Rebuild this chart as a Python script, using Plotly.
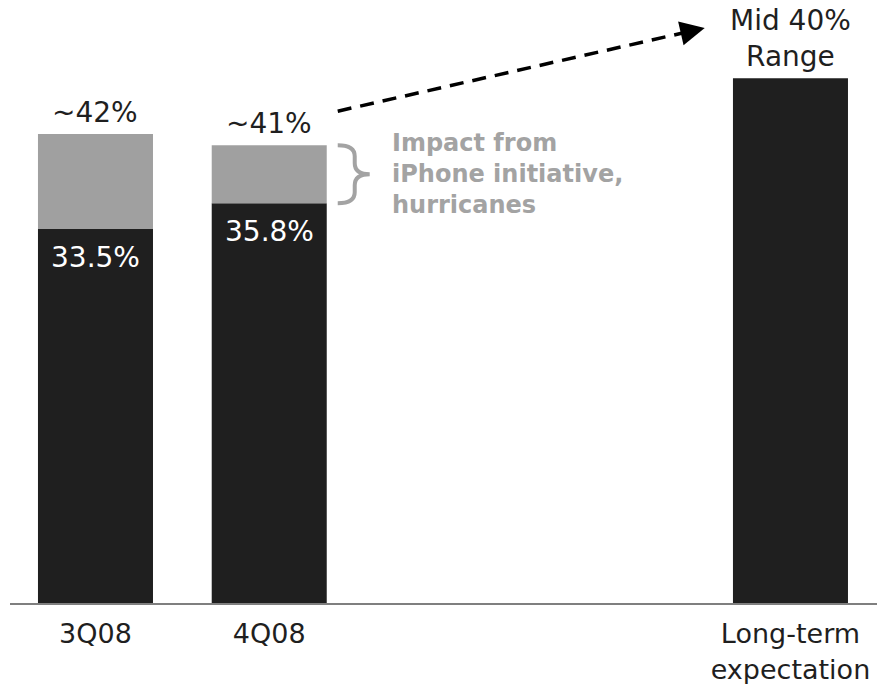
import math
import plotly.graph_objects as go

# Gross margin bars: core value, approximate total incl. one-off impact
categories = ["3Q08", "4Q08", "Long-term<br>expectation"]
positions = [0, 1, 4]
core_margin = [33.5, 35.8, 47.0]
approx_total = [42.0, 41.0, None]
core_labels = ["33.5%", "35.8%", ""]
total_labels = ["~42%", "~41%", ""]
target_label = "Mid 40%<br>Range"
impact_note = "Impact from<br>iPhone initiative,<br>hurricanes"

BLACK = "#1f1f1f"
GREY = "#a0a0a0"
NOTE_GREY = "#a3a3a3"
FONT = "DejaVu Sans"

impact = [t - c if t is not None else 0 for t, c in zip(approx_total, core_margin)]

# layout geometry (pixels per unit, used for decorations)
W, H = 877, 684
ML, MB = 10, 81
X_RANGE = [-0.492, 4.498]
Y_RANGE = [0, 54]
px_per_x = (W - ML) / (X_RANGE[1] - X_RANGE[0])
px_per_y = (H - MB) / (Y_RANGE[1] - Y_RANGE[0])

fig = go.Figure()
fig.add_trace(go.Bar(x=positions, y=core_margin, width=0.662,
                     marker=dict(color=BLACK, line=dict(width=0)),
                     hoverinfo="skip"))
fig.add_trace(go.Bar(x=positions, y=impact, base=core_margin, width=0.662,
                     marker=dict(color=GREY, line=dict(width=0)),
                     hoverinfo="skip"))

annotations = []
for x, c, t, cl, tl in zip(positions, core_margin, approx_total, core_labels, total_labels):
    if cl:
        annotations.append(dict(x=x, y=c, text=cl, showarrow=False, yanchor="top",
                                yshift=-10, font=dict(family=FONT, size=28, color="white")))
    if tl and t is not None:
        annotations.append(dict(x=x, y=t, text=tl, showarrow=False, yanchor="bottom",
                                yshift=3, font=dict(family=FONT, size=28, color=BLACK)))

annotations.append(dict(x=positions[2], y=core_margin[2], text=target_label, showarrow=False,
                        yanchor="bottom", yshift=3,
                        font=dict(family=FONT, size=28, color=BLACK)))

# brace beside the 4Q08 impact segment
def dx(p):
    return p / px_per_x

def dy(p):
    return p / px_per_y

bx = positions[1]
x0 = bx + dx(338 - 269.5)
xm = bx + dx(355 - 269.5)
xt = bx + dx(370 - 269.5)
yt = approx_total[1]
yb = core_margin[1]
ym = (yt + yb) / 2
r = dy(11)
brace = (f"M{x0},{yt} Q{xm},{yt} {xm},{yt - r} L{xm},{ym + r} "
         f"Q{xm},{ym} {xt},{ym} Q{xm},{ym} {xm},{ym - r} "
         f"L{xm},{yb + r} Q{xm},{yb} {x0},{yb}")
shapes = [dict(type="path", path=brace, xref="x", yref="y",
               line=dict(color=NOTE_GREY, width=4))]

annotations.append(dict(x=bx + dx(390 - 269.5), y=ym, text=impact_note, showarrow=False,
                        xanchor="left", yanchor="middle", align="left",
                        font=dict(family=FONT, size=24, color=NOTE_GREY, weight="bold")))

# dashed arrow from 4Q08 toward the long-term target
start_x = bx + dx(338 - 269.5)
start_y = approx_total[1] + dy(146 - 112)
tip_x = bx + dx(705 - 269.5)
tip_y = Y_RANGE[1] - dy(28)
seg_px = ((tip_x - start_x) * px_per_x, (tip_y - start_y) * px_per_y)
seg_len = math.hypot(*seg_px)
ux, uy = seg_px[0] / seg_len, seg_px[1] / seg_len
head = 16
base_x = tip_x - dx(head * ux)
base_y = tip_y - dy(head * uy)

fig.add_trace(go.Scatter(x=[start_x, base_x], y=[start_y, base_y], mode="lines",
                         line=dict(color="black", width=3.5, dash="14px,9px"),
                         hoverinfo="skip"))
annotations.append(dict(x=tip_x, y=tip_y, ax=base_x, ay=base_y, xref="x", yref="y",
                        axref="x", ayref="y", text="", showarrow=True, arrowhead=2,
                        arrowsize=1.4, arrowwidth=3.5, arrowcolor="black", standoff=0))

fig.update_layout(
    width=W, height=H,
    margin=dict(l=ML, r=0, t=0, b=MB),
    barmode="overlay",
    showlegend=False,
    plot_bgcolor="white", paper_bgcolor="white",
    font=dict(family=FONT, color=BLACK),
    annotations=annotations,
    shapes=shapes,
    xaxis=dict(range=X_RANGE, tickvals=positions, ticktext=categories,
               showgrid=False, zeroline=False, showline=True, linecolor="#7f7f7f",
               linewidth=2, ticks="", ticklabelstandoff=6, automargin=False,
               tickfont=dict(family=FONT, size=27, color=BLACK),
               fixedrange=True),
    yaxis=dict(range=Y_RANGE, visible=False, showgrid=False, zeroline=False,
               fixedrange=True, automargin=False),
)

fig.write_html("out.html")
